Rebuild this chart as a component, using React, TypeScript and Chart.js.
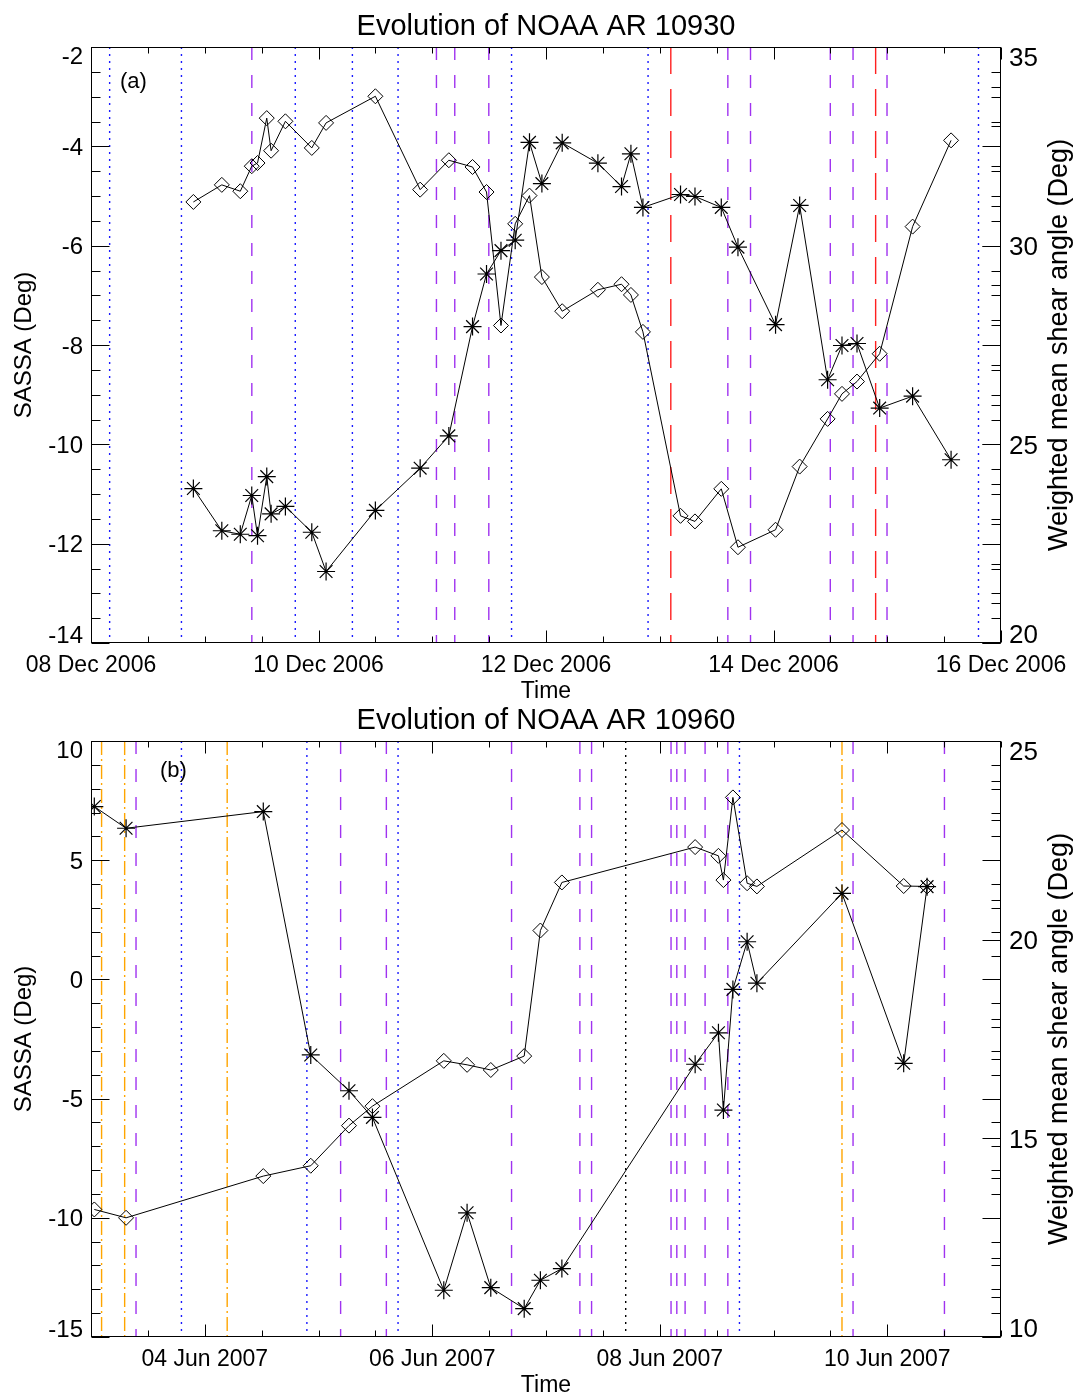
import React, { useEffect, useRef } from "react";
import { Chart, registerables } from "chart.js";

Chart.register(...registerables);

const FONT = "'Liberation Sans', Arial, Helvetica, sans-serif";

// ---------------- Panel (a): NOAA AR 10930 ----------------
const startA = "2006-12-08";
const spanDaysA = 8;
const timesA = [
  "2006-12-08 21:36", "2006-12-09 03:36", "2006-12-09 07:30", "2006-12-09 09:55", "2006-12-09 11:08",
  "2006-12-09 13:05", "2006-12-09 14:00", "2006-12-09 17:01", "2006-12-09 22:35", "2006-12-10 01:36",
  "2006-12-10 12:00", "2006-12-10 21:27", "2006-12-11 03:30", "2006-12-11 08:30", "2006-12-11 11:27",
  "2006-12-11 14:30", "2006-12-11 17:30", "2006-12-11 20:31", "2006-12-11 23:08", "2006-12-12 03:25",
  "2006-12-12 10:57", "2006-12-12 15:56", "2006-12-12 17:55", "2006-12-12 20:27", "2006-12-13 04:23",
  "2006-12-13 07:26", "2006-12-13 12:59", "2006-12-13 16:30", "2006-12-14 00:26", "2006-12-14 05:31",
  "2006-12-14 11:25", "2006-12-14 14:27", "2006-12-14 17:37", "2006-12-14 22:24", "2006-12-15 05:21",
  "2006-12-15 13:28",
];
const sassaA = [
  -10.89, -11.74, -11.81, -11.03, -11.84, -10.65, -11.4, -11.25, -11.77, -12.56,
  -11.33, -10.48, -9.83, -7.63, -6.57, -6.1, -5.89, -3.92, -4.75, -3.93,
  -4.34, -4.81, -4.15, -5.23, -4.97, -5.01, -5.23, -6.03, -7.59, -5.19,
  -8.7, -8.01, -7.97, -9.27, -9.03, -10.31,
];
const shearA = [
  31.1, 31.53, 31.37, 32.0, 32.08, 33.21, 32.39, 33.13, 32.46, 33.09,
  33.76, 31.41, 32.15, 31.98, 31.35, 27.99, 30.55, 31.26, 29.21, 28.35,
  28.89, 29.03, 28.76, 27.83, 23.2, 23.06, 23.88, 22.41, 22.85, 24.44,
  25.64, 26.27, 26.58, 27.28, 30.48, 32.65,
];
const xLabelsA = ["08 Dec 2006", "10 Dec 2006", "12 Dec 2006", "14 Dec 2006", "16 Dec 2006"];
const xLabelDatesA = ["2006-12-08 00:00", "2006-12-10 00:00", "2006-12-12 00:00", "2006-12-14 00:00", "2006-12-16 00:00"];
const blueEventsA = [
  "2006-12-08 03:56", "2006-12-08 19:05", "2006-12-09 19:06", "2006-12-10 07:09",
  "2006-12-10 16:47", "2006-12-11 16:44", "2006-12-12 21:32", "2006-12-15 19:15",
];
const purpleEventsA = [
  "2006-12-09 09:56", "2006-12-11 00:53", "2006-12-11 04:45", "2006-12-11 11:56", "2006-12-13 14:22",
  "2006-12-13 19:09", "2006-12-14 11:59", "2006-12-14 16:47", "2006-12-14 23:57",
];
const redEventsA = ["2006-12-13 02:20", "2006-12-14 21:33"];

// ---------------- Panel (b): NOAA AR 10960 ----------------
const startB = "2007-06-03";
const spanDaysB = 8;
const timesB = [
  "2007-06-03 00:42", "2007-06-03 07:24", "2007-06-04 12:21", "2007-06-04 22:22", "2007-06-05 06:26",
  "2007-06-05 11:23", "2007-06-06 02:26", "2007-06-06 07:21", "2007-06-06 12:21", "2007-06-06 19:24",
  "2007-06-06 22:49", "2007-06-07 03:21", "2007-06-08 07:28", "2007-06-08 12:23", "2007-06-08 13:26",
  "2007-06-08 15:26", "2007-06-08 18:26", "2007-06-08 20:30", "2007-06-09 14:27", "2007-06-10 03:28",
  "2007-06-10 08:24",
];
const sassaB = [
  7.25, 6.34, 7.04, -3.17, -4.67, -5.79, -13.04, -9.79, -12.93, -13.81,
  -12.62, -12.13, -3.56, -2.24, -5.48, -0.42, 1.58, -0.16, 3.61, -3.52, 3.89,
];
const shearB = [
  13.21, 13.0, 14.05, 14.31, 15.32, 15.81, 16.95, 16.85, 16.72, 17.07,
  20.23, 21.44, 22.33, 22.11, 21.5, 23.58, 21.42, 21.34, 22.76, 21.35, 21.34,
];
const xLabelsB = ["04 Jun 2007", "06 Jun 2007", "08 Jun 2007", "10 Jun 2007"];
const xLabelDatesB = ["2007-06-04 00:00", "2007-06-06 00:00", "2007-06-08 00:00", "2007-06-10 00:00"];
const orangeEventsB = ["2007-06-03 02:14", "2007-06-03 07:06", "2007-06-04 04:44", "2007-06-09 14:27"];
const purpleEventsB = [
  "2007-06-03 09:30", "2007-06-05 04:40", "2007-06-05 14:19", "2007-06-06 16:44", "2007-06-07 07:09",
  "2007-06-07 09:37", "2007-06-08 02:23", "2007-06-08 03:36", "2007-06-08 05:21", "2007-06-08 09:34",
  "2007-06-08 14:22", "2007-06-09 16:47", "2007-06-10 12:04",
];
const blueEventsB = ["2007-06-03 19:05", "2007-06-04 21:33", "2007-06-05 16:47", "2007-06-08 16:49"];
const blackEventsB = ["2007-06-07 16:49"];

// ---------------- helpers ----------------
function toDays(t: string, start: string): number {
  const ms = Date.parse(t.replace(" ", "T") + ":00Z");
  const s = Date.parse(start + "T00:00:00Z");
  return (ms - s) / 86400000;
}

type AxisSpec = { min: number; max: number; major: number; minor: number };
type EventSpec = { times: string[]; color: string; dash: number[] };
type PanelSpec = {
  title: string;
  tag: string;
  tagX: number;
  tagY: number;
  start: string;
  span: number;
  times: string[];
  sassa: number[];
  shear: number[];
  xLabels: string[];
  xLabelDates: string[];
  left: AxisSpec;
  right: AxisSpec;
  events: EventSpec[];
};

const BLUE = "#1a1aff";
const PURPLE = "#a033f0";
const RED = "#ff2020";
const ORANGE = "#ffa500";

const panelA: PanelSpec = {
  title: "Evolution of NOAA AR 10930",
  tag: "(a)",
  tagX: 120,
  tagY: 88,
  start: startA,
  span: spanDaysA,
  times: timesA,
  sassa: sassaA,
  shear: shearA,
  xLabels: xLabelsA,
  xLabelDates: xLabelDatesA,
  left: { min: -14, max: -2, major: 2, minor: 0.5 },
  right: { min: 20, max: 35, major: 5, minor: 1 },
  events: [
    { times: blueEventsA, color: BLUE, dash: [2, 5] },
    { times: purpleEventsA, color: PURPLE, dash: [13, 15] },
    { times: redEventsA, color: RED, dash: [27, 15] },
  ],
};

const panelB: PanelSpec = {
  title: "Evolution of NOAA AR 10960",
  tag: "(b)",
  tagX: 160,
  tagY: 83,
  start: startB,
  span: spanDaysB,
  times: timesB,
  sassa: sassaB,
  shear: shearB,
  xLabels: xLabelsB,
  xLabelDates: xLabelDatesB,
  left: { min: -15, max: 10, major: 5, minor: 1 },
  right: { min: 10, max: 25, major: 5, minor: 1 },
  events: [
    { times: orangeEventsB, color: ORANGE, dash: [14, 4, 2, 4] },
    { times: blueEventsB, color: BLUE, dash: [2, 5] },
    { times: blackEventsB, color: "#000000", dash: [2, 5] },
    { times: purpleEventsB, color: PURPLE, dash: [13, 15] },
  ],
};

function isMultiple(v: number, step: number): boolean {
  const r = v / step;
  return Math.abs(r - Math.round(r)) < 1e-6;
}

function baselineFor(tickY: number, top: number, bottom: number, size: number): number {
  const h = 0.716 * size;
  let c = tickY;
  if (c - h / 2 < top) c = top + h / 2;
  if (c + h / 2 > bottom) c = bottom - h / 2;
  return c + h / 2;
}

function makeDecor(p: PanelSpec) {
  return {
    id: "panelDecor",
    beforeDatasetsDraw(chart: any) {
      const { ctx, chartArea: a, scales } = chart;
      const xs = scales.x;
      ctx.save();
      ctx.beginPath();
      ctx.rect(a.left, a.top, a.right - a.left, a.bottom - a.top);
      ctx.clip();
      ctx.lineWidth = 1.4;
      for (const ev of p.events) {
        ctx.strokeStyle = ev.color;
        ctx.setLineDash(ev.dash);
        for (const d of ev.times) {
          const x = xs.getPixelForValue(toDays(d, p.start));
          ctx.beginPath();
          ctx.moveTo(x, a.top);
          ctx.lineTo(x, a.bottom);
          ctx.stroke();
        }
      }
      ctx.restore();
    },
    afterDraw(chart: any) {
      const { ctx, chartArea: a, scales } = chart;
      const xs = scales.x;
      const yl = scales.y;
      const yr = scales.y2;
      const L = Math.round(a.left) + 0.5;
      const R = Math.round(a.right) - 0.5;
      const T = Math.round(a.top) + 0.5;
      const B = Math.round(a.bottom) - 0.5;
      ctx.save();
      ctx.setLineDash([]);
      ctx.strokeStyle = "#000";
      ctx.lineWidth = 1;
      ctx.strokeRect(L, T, R - L, B - T);

      const majorDays = p.xLabelDates.map((d) => toDays(d, p.start));
      ctx.beginPath();
      for (let i = 0; i <= p.span * 2; i++) {
        const t = i * 0.5;
        const x = Math.round(xs.getPixelForValue(t)) + 0.5;
        const major = majorDays.some((m) => Math.abs(m - t) < 1e-6);
        const len = major ? 12 : 6;
        ctx.moveTo(x, B);
        ctx.lineTo(x, B - len);
        ctx.moveTo(x, T);
        ctx.lineTo(x, T + len);
      }
      const nL = Math.round((p.left.max - p.left.min) / p.left.minor);
      for (let i = 0; i <= nL; i++) {
        const v = p.left.min + i * p.left.minor;
        const y = Math.round(yl.getPixelForValue(v)) + 0.5;
        const len = isMultiple(v - p.left.min, p.left.major) ? 18 : 9;
        ctx.moveTo(L, y);
        ctx.lineTo(L + len, y);
        ctx.moveTo(R, y);
        ctx.lineTo(R - len, y);
      }
      const nR = Math.round((p.right.max - p.right.min) / p.right.minor);
      for (let i = 0; i <= nR; i++) {
        const v = p.right.min + i * p.right.minor;
        const y = Math.round(yr.getPixelForValue(v)) + 0.5;
        const len = isMultiple(v - p.right.min, p.right.major) ? 18 : 9;
        ctx.moveTo(R, y);
        ctx.lineTo(R - len, y);
      }
      ctx.stroke();

      ctx.fillStyle = "#000";
      // left tick labels
      const fl = 24;
      ctx.font = `${fl}px ${FONT}`;
      ctx.textAlign = "right";
      ctx.textBaseline = "alphabetic";
      const mL = Math.round((p.left.max - p.left.min) / p.left.major);
      for (let i = 0; i <= mL; i++) {
        const v = p.left.min + i * p.left.major;
        const y = yl.getPixelForValue(v);
        ctx.fillText(String(Math.round(v)), a.left - 8, baselineFor(y, a.top, a.bottom, fl));
      }
      // right tick labels
      const fr = 26;
      ctx.font = `${fr}px ${FONT}`;
      ctx.textAlign = "left";
      const mR = Math.round((p.right.max - p.right.min) / p.right.major);
      for (let i = 0; i <= mR; i++) {
        const v = p.right.min + i * p.right.major;
        const y = yr.getPixelForValue(v);
        ctx.fillText(String(Math.round(v)), a.right + 8, baselineFor(y, a.top, a.bottom, fr));
      }
      // x tick labels
      ctx.font = `23px ${FONT}`;
      ctx.textAlign = "center";
      p.xLabels.forEach((lab, i) => {
        const x = xs.getPixelForValue(majorDays[i]);
        ctx.fillText(lab, x, a.bottom + 29);
      });
      const cx = (a.left + a.right) / 2;
      const cy = (a.top + a.bottom) / 2;
      ctx.fillText("Time", cx, a.bottom + 55);
      // title
      ctx.font = `29px ${FONT}`;
      ctx.fillText(p.title, cx, a.top - 12);
      // tag
      ctx.font = `22px ${FONT}`;
      ctx.textAlign = "left";
      ctx.fillText(p.tag, p.tagX, p.tagY);
      // axis titles
      ctx.textAlign = "center";
      ctx.save();
      ctx.translate(31, cy);
      ctx.rotate(-Math.PI / 2);
      ctx.font = `24px ${FONT}`;
      ctx.fillText("SASSA (Deg)", 0, 0);
      ctx.restore();
      ctx.save();
      ctx.translate(1067, cy);
      ctx.rotate(-Math.PI / 2);
      ctx.font = `27px ${FONT}`;
      ctx.fillText("Weighted mean shear angle (Deg)", 0, 0);
      ctx.restore();
      ctx.restore();
    },
  };
}

function PanelChart({ spec, top, height }: { spec: PanelSpec; top: number; height: number }) {
  const ref = useRef<HTMLCanvasElement>(null);
  useEffect(() => {
    if (!ref.current) return;
    const xs = spec.times.map((t) => toDays(t, spec.start));
    const chart = new Chart(ref.current, {
      type: "line",
      data: {
        datasets: [
          {
            label: "SASSA",
            data: xs.map((x, i) => ({ x, y: spec.sassa[i] })),
            yAxisID: "y",
            borderColor: "#000",
            borderWidth: 1,
            pointStyle: "star",
            pointRadius: 9,
            pointBorderColor: "#000",
            pointBorderWidth: 1.2,
            pointBackgroundColor: "rgba(0,0,0,0)",
            fill: false,
            tension: 0,
            clip: 0,
          } as any,
          {
            label: "Weighted mean shear angle",
            data: xs.map((x, i) => ({ x, y: spec.shear[i] })),
            yAxisID: "y2",
            borderColor: "#000",
            borderWidth: 1,
            pointStyle: "rectRot",
            pointRadius: 7.5,
            pointBorderColor: "#000",
            pointBorderWidth: 1,
            pointBackgroundColor: "rgba(0,0,0,0)",
            fill: false,
            tension: 0,
            clip: 0,
          } as any,
        ],
      },
      options: {
        animation: false,
        responsive: false,
        devicePixelRatio: 1,
        events: [],
        layout: { autoPadding: false, padding: { left: 91, right: 75, top: 47, bottom: height - 643 } },
        plugins: { legend: { display: false }, tooltip: { enabled: false }, title: { display: false } },
        scales: {
          x: { type: "linear", min: 0, max: spec.span, display: false },
          y: { type: "linear", min: spec.left.min, max: spec.left.max, display: false },
          y2: { type: "linear", position: "right", min: spec.right.min, max: spec.right.max, display: false },
        },
      } as any,
      plugins: [makeDecor(spec)],
    });
    return () => chart.destroy();
  }, [spec, height]);
  return (
    <canvas
      ref={ref}
      width={1076}
      height={height}
      style={{ position: "absolute", left: 0, top, width: 1076, height }}
    />
  );
}

export default function App() {
  return (
    <div style={{ position: "absolute", left: 0, top: 0, width: 1076, height: 1392, background: "#fff", overflow: "hidden" }}>
      <PanelChart spec={panelA} top={0} height={705} />
      <PanelChart spec={panelB} top={694} height={698} />
    </div>
  );
}
